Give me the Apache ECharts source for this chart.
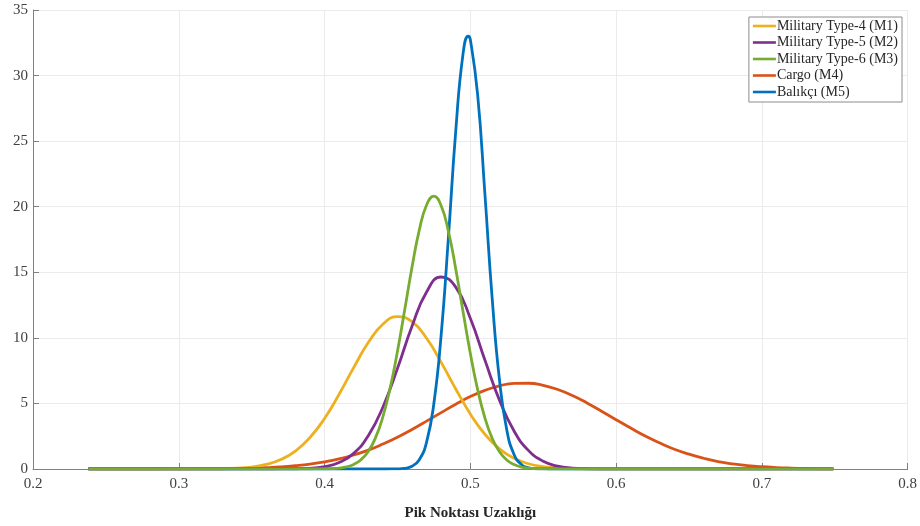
<!DOCTYPE html>
<html>
<head>
<meta charset="utf-8">
<script src="https://cdn.jsdelivr.net/npm/echarts@6/dist/echarts.min.js"></script>
<style>
  html, body { margin: 0; padding: 0; background: #ffffff; }
  #chart { width: 920px; height: 526px; }
</style>
</head>
<body>
<div id="chart"></div>
<script>
// Density curves of the peak-point distance, one [distance, density] list per class
const seriesNames = ['Military Type-4 (M1)', 'Military Type-5 (M2)', 'Military Type-6 (M3)', 'Cargo (M4)', 'Balıkçı (M5)'];

const m1 = [
  [0.238, 0], [0.27, 0], [0.30, 0], [0.31, 0.003], [0.32, 0.01], [0.33, 0.02], [0.34, 0.06], [0.35, 0.15],
  [0.36, 0.35], [0.37, 0.72], [0.38, 1.37], [0.39, 2.40], [0.40, 3.85], [0.41, 5.70],
  [0.42, 7.73], [0.43, 9.64], [0.44, 11.04], [0.45, 11.62], [0.46, 11.23], [0.47, 9.97],
  [0.48, 8.13], [0.49, 6.10], [0.50, 4.20], [0.51, 2.65], [0.52, 1.54], [0.53, 0.82],
  [0.54, 0.40], [0.55, 0.18], [0.56, 0.08], [0.57, 0.03], [0.58, 0.01], [0.59, 0],
  [0.62, 0], [0.66, 0], [0.70, 0], [0.749, 0]
];

const m2 = [
  [0.238, 0], [0.28, 0], [0.32, 0], [0.35, 0], [0.36, 0], [0.37, 0.004], [0.38, 0.02], [0.39, 0.05], [0.40, 0.18], [0.41, 0.49],
  [0.42, 1.19], [0.43, 2.54], [0.44, 4.71], [0.45, 7.66], [0.46, 10.88], [0.47, 13.50],
  [0.48, 14.64], [0.49, 13.87], [0.50, 11.49], [0.51, 8.31], [0.52, 5.25], [0.53, 2.90],
  [0.54, 1.40], [0.55, 0.59], [0.56, 0.22], [0.57, 0.07], [0.58, 0.02], [0.59, 0],
  [0.62, 0], [0.66, 0], [0.70, 0], [0.749, 0]
];

const m3 = [
  [0.238, 0], [0.28, 0], [0.32, 0], [0.36, 0], [0.38, 0], [0.39, 0], [0.395, 0.004], [0.40, 0.01], [0.405, 0.03], [0.41, 0.07], [0.415, 0.16],
  [0.42, 0.35], [0.425, 0.71], [0.43, 1.34], [0.435, 2.39], [0.44, 3.97], [0.445, 6.17],
  [0.45, 8.96], [0.455, 12.14], [0.46, 15.38], [0.465, 18.21], [0.47, 20.13], [0.475, 20.80],
  [0.48, 20.08], [0.485, 18.11], [0.49, 15.26], [0.495, 12.01], [0.50, 8.83], [0.505, 6.07],
  [0.51, 3.90], [0.515, 2.34], [0.52, 1.31], [0.525, 0.69], [0.53, 0.34], [0.535, 0.15],
  [0.54, 0.07], [0.545, 0.03], [0.55, 0.01], [0.555, 0], [0.57, 0], [0.60, 0],
  [0.64, 0], [0.68, 0], [0.72, 0], [0.749, 0]
];

const m4 = [
  [0.238, 0], [0.26, 0], [0.28, 0.001], [0.30, 0.004], [0.31, 0.007], [0.32, 0.01], [0.33, 0.02],
  [0.34, 0.04], [0.35, 0.06], [0.36, 0.10], [0.37, 0.16], [0.38, 0.25], [0.39, 0.37],
  [0.40, 0.54], [0.41, 0.77], [0.42, 1.07], [0.43, 1.44], [0.44, 1.90], [0.45, 2.42],
  [0.46, 3.01], [0.47, 3.65], [0.48, 4.30], [0.49, 4.94], [0.50, 5.52], [0.51, 6.00],
  [0.52, 6.34], [0.53, 6.53], [0.54, 6.54], [0.55, 6.38], [0.56, 6.06], [0.57, 5.60],
  [0.58, 5.04], [0.59, 4.41], [0.60, 3.76], [0.61, 3.12], [0.62, 2.51], [0.63, 1.98],
  [0.64, 1.51], [0.65, 1.13], [0.66, 0.82], [0.67, 0.57], [0.68, 0.39], [0.69, 0.26],
  [0.70, 0.17], [0.71, 0.11], [0.72, 0.07], [0.73, 0.04], [0.74, 0.02], [0.749, 0.01]
];

const m5 = [
  [0.238, 0], [0.28, 0], [0.32, 0], [0.36, 0], [0.40, 0], [0.42, 0], [0.43, 0], [0.44, 0], [0.445, 0.003], [0.45, 0.01], [0.455, 0.05],
  [0.46, 0.21], [0.465, 0.71], [0.47, 2.05], [0.475, 4.99], [0.48, 10.23], [0.485, 17.69],
  [0.49, 25.77], [0.495, 31.65], [0.4985, 33.0], [0.50, 32.75], [0.505, 28.56], [0.51, 20.99],
  [0.515, 13.01], [0.52, 6.79], [0.525, 2.99], [0.53, 1.11], [0.535, 0.35], [0.54, 0.09],
  [0.545, 0.02], [0.55, 0.004], [0.555, 0], [0.56, 0], [0.57, 0], [0.60, 0], [0.64, 0],
  [0.68, 0], [0.72, 0], [0.749, 0]
];

const xTicks = { min: 0.2, max: 0.8, step: 0.1 };
const yTicks = { min: 0, max: 35, step: 5 };

const colors = {
  'Military Type-4 (M1)': '#EDB120',
  'Military Type-5 (M2)': '#7E2F8E',
  'Military Type-6 (M3)': '#77AC30',
  'Cargo (M4)': '#D95319',
  'Balıkçı (M5)': '#0072BD'
};
const dataByName = {
  'Military Type-4 (M1)': m1,
  'Military Type-5 (M2)': m2,
  'Military Type-6 (M3)': m3,
  'Cargo (M4)': m4,
  'Balıkçı (M5)': m5
};
// stacking order of the drawn lines (last one on top)
const drawOrder = ['Cargo (M4)', 'Military Type-4 (M1)', 'Military Type-5 (M2)', 'Balıkçı (M5)', 'Military Type-6 (M3)'];

const serif = '"Liberation Serif", "Times New Roman", serif';
const textColor = '#262626';

const chart = echarts.init(document.getElementById('chart'), null, { renderer: 'canvas' });

chart.setOption({
  backgroundColor: '#ffffff',
  animation: false,
  grid: { left: 33, right: 12, top: 10, bottom: 55, containLabel: false },
  legend: {
    data: seriesNames,
    orient: 'vertical',
    right: 18,
    top: 17,
    backgroundColor: '#ffffff',
    borderColor: '#8c8c8c',
    borderWidth: 1,
    borderRadius: 0,
    padding: [2, 4, 3, 4],
    itemGap: 2.5,
    itemWidth: 23,
    itemHeight: 14,
    icon: 'path://M0,6 L23,6 L23,8.6 L0,8.6 Z',
    textStyle: { fontFamily: serif, fontSize: 14, color: textColor, padding: [0, 0, 0, -4] }
  },
  xAxis: {
    type: 'value',
    min: xTicks.min,
    max: xTicks.max,
    interval: xTicks.step,
    name: 'Pik Noktası Uzaklığı',
    nameLocation: 'middle',
    nameGap: 37,
    nameTextStyle: { fontFamily: serif, fontSize: 15, fontWeight: 'bold', color: textColor },
    axisLine: { show: true, onZero: false, lineStyle: { color: '#808080', width: 1 } },
    axisTick: { show: true, inside: true, length: 6, lineStyle: { color: '#808080' } },
    axisLabel: {
      fontFamily: serif, fontSize: 15, color: '#404040', margin: 8,
      formatter: v => v.toFixed(1)
    },
    splitLine: { show: true, lineStyle: { color: '#ebebeb', width: 1 } }
  },
  yAxis: {
    type: 'value',
    min: yTicks.min,
    max: yTicks.max,
    interval: yTicks.step,
    axisLine: { show: true, onZero: false, lineStyle: { color: '#808080', width: 1 } },
    axisTick: { show: true, inside: true, length: 6, lineStyle: { color: '#808080' } },
    axisLabel: { fontFamily: serif, fontSize: 15, color: '#404040', margin: 5 },
    splitLine: { show: true, lineStyle: { color: '#ebebeb', width: 1 } }
  },
  series: drawOrder.map(name => ({
    name: name,
    type: 'line',
    data: dataByName[name],
    smooth: 0.5,
    symbol: 'none',
    showSymbol: false,
    color: colors[name],
    lineStyle: { color: colors[name], width: 2.8 },
    itemStyle: { color: colors[name] },
    emphasis: { disabled: true }
  }))
});
</script>
</body>
</html>
